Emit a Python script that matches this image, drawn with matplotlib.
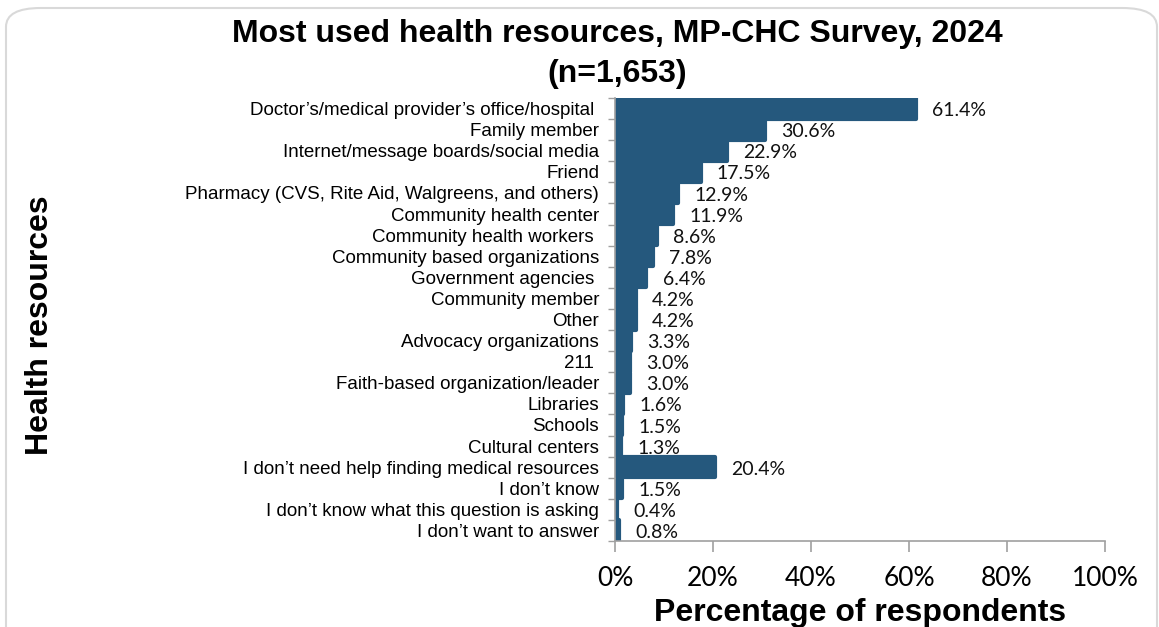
import matplotlib
matplotlib.use("Agg")
import matplotlib.pyplot as plt
from matplotlib.patches import FancyBboxPatch
import numpy as np

# data
resources = [
    "Doctor\u2019s/medical provider\u2019s office/hospital ",
    "Family member",
    "Internet/message boards/social media",
    "Friend",
    "Pharmacy (CVS, Rite Aid, Walgreens, and others)",
    "Community health center",
    "Community health workers ",
    "Community based organizations",
    "Government agencies ",
    "Community member",
    "Other",
    "Advocacy organizations",
    "211 ",
    "Faith-based organization/leader",
    "Libraries",
    "Schools",
    "Cultural centers",
    "I don\u2019t need help finding medical resources",
    "I don\u2019t know",
    "I don\u2019t know what this question is asking",
    "I don\u2019t want to answer",
]
pct = [61.4, 30.6, 22.9, 17.5, 12.9, 11.9, 8.6, 7.8, 6.4, 4.2, 4.2,
       3.3, 3.0, 3.0, 1.6, 1.5, 1.3, 20.4, 1.5, 0.4, 0.8]
xticks = [0, 20, 40, 60, 80, 100]

bar_color = "#25587d"
axis_color = "#a0a0a0"
label_font = ["Liberation Sans", "DejaVu Sans"]
num_font = ["Lato", "DejaVu Sans"]

fig = plt.figure(figsize=(11.59, 6.27), dpi=100)
ax = fig.add_axes([615 / 1159, 1 - 541 / 627, (1105 - 615) / 1159, (541 - 98) / 627])

# rounded outer frame
frame = FancyBboxPatch((6 / 1159, -0.05), 1151 / 1159, 1.05 - 8 / 627,
                       boxstyle="round,pad=0,rounding_size=0.03",
                       transform=fig.transFigure, facecolor="none",
                       edgecolor="#d9d9d9", linewidth=1.5, clip_on=False)
fig.patches.append(frame)

y = np.arange(len(resources))
ax.barh(y, pct, height=0.96, color=bar_color, edgecolor=bar_color,
        linewidth=3, joinstyle="round")

for yi, v in zip(y, pct):
    ax.text(v + 3.3, yi + 0.1, f"{v:.1f}%", va="center", ha="left",
            fontsize=14, family=num_font, color="#111111")

ax.set_xlim(0, 100)
ax.set_ylim(len(resources) - 0.5, -0.5)

ax.set_yticks(y)
ax.set_yticklabels(resources, fontsize=13.5, family=label_font)
ax.set_yticks(np.arange(len(resources) + 1) - 0.5, minor=True)
ax.tick_params(axis="y", which="major", length=0, pad=11.5)
ax.tick_params(axis="y", which="minor", length=5, color=axis_color, width=1)

ax.set_xticks(xticks)
ax.set_xticklabels([f"{t}%" for t in xticks], fontsize=19, family=num_font)
ax.tick_params(axis="x", length=8, color=axis_color, width=1.2, pad=10)

for s in ["top", "right"]:
    ax.spines[s].set_visible(False)
for s in ["left", "bottom"]:
    ax.spines[s].set_color(axis_color)
    ax.spines[s].set_linewidth(1.2)

ax.set_xlabel("Percentage of respondents", fontsize=23, fontweight="bold",
              family=label_font, labelpad=5)
fig.text(40 / 1159, 1 - 325 / 627, "Health resources", rotation=90,
         ha="center", va="center", fontsize=23, fontweight="bold", family=label_font)
fig.text(617 / 1159, 1 - 54 / 627,
         "Most used health resources, MP-CHC Survey, 2024\n(n=1,653)",
         ha="center", va="center", fontsize=23, fontweight="bold",
         family=label_font, linespacing=1.45)

fig.savefig("out.png", dpi=100)
